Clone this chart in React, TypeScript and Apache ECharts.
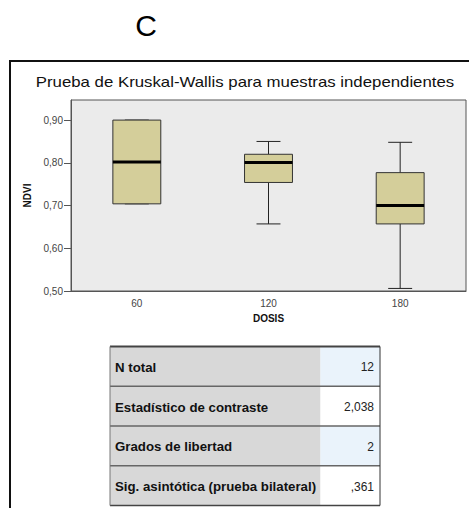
import React, { useEffect, useRef } from "react";
import * as echarts from "echarts";

const categories = ["60", "120", "180"];
const boxMin = [0.704, 0.657, 0.506];
const boxQ1 = [0.704, 0.754, 0.657];
const boxMedian = [0.802, 0.801, 0.7];
const boxQ3 = [0.9, 0.82, 0.777];
const boxMax = [0.9, 0.85, 0.848];

const tableLabels = [
  "N total",
  "Estadístico de contraste",
  "Grados de libertad",
  "Sig. asintótica (prueba bilateral)",
];
const tableValues = ["12", "2,038", "2", ",361"];

const FONT = "'Liberation Sans', Arial, sans-serif";

export default function App() {
  const ref = useRef<HTMLDivElement>(null);

  useEffect(() => {
    if (!ref.current) return;
    const chart = echarts.init(ref.current, null, { renderer: "svg" });

    const data = categories.map((_, i) => [
      i,
      boxMin[i],
      boxQ1[i],
      boxMedian[i],
      boxQ3[i],
      boxMax[i],
    ]);

    // table geometry
    const tX = 110, tW = 270, tSplit = 320.5, tTop = 346.5, rowH = 39.75;
    const tableGraphics: any[] = [];
    tableLabels.forEach((lab, i) => {
      const y = tTop + i * rowH;
      tableGraphics.push({
        type: "rect",
        shape: { x: tX, y, width: tSplit - tX, height: rowH },
        style: { fill: "#d8d8d8" },
        z: 10,
      });
      tableGraphics.push({
        type: "rect",
        shape: { x: tSplit, y, width: tX + tW - tSplit, height: rowH },
        style: { fill: i % 2 === 0 ? "#eaf3fb" : "#ffffff" },
        z: 10,
      });
      tableGraphics.push({
        type: "text",
        x: tX + 5,
        y: y + rowH / 2 + 1,
        scaleX: 1.02,
        style: {
          text: lab,
          font: `bold 13px ${FONT}`,
          fill: "#111",
          textAlign: "left",
          textVerticalAlign: "middle",
        },
        z: 12,
      });
      tableGraphics.push({
        type: "text",
        x: tX + tW - 6,
        y: y + rowH / 2 + 1,
        style: {
          text: tableValues[i],
          font: `12px ${FONT}`,
          fill: "#222",
          textAlign: "right",
          textVerticalAlign: "middle",
        },
        z: 12,
      });
      tableGraphics.push({
        type: "line",
        shape: { x1: tX, y1: y, x2: tX + tW, y2: y },
        style: { stroke: i === 0 ? "#444" : "#666", lineWidth: i === 0 ? 2 : 1.5 },
        z: 13,
      });
    });
    tableGraphics.push({
      type: "line",
      shape: { x1: tX, y1: tTop + 4 * rowH, x2: tX + tW, y2: tTop + 4 * rowH },
      style: { stroke: "#444", lineWidth: 1.5 },
      z: 13,
    });
    tableGraphics.push({
      type: "line",
      shape: { x1: tX, y1: tTop, x2: tX, y2: tTop + 4 * rowH },
      style: { stroke: "#777", lineWidth: 1 },
      z: 13,
    });
    tableGraphics.push({
      type: "line",
      shape: { x1: tX + tW, y1: tTop, x2: tX + tW, y2: tTop + 4 * rowH },
      style: { stroke: "#333", lineWidth: 1 },
      z: 13,
    });

    chart.setOption({
      animation: false,
      backgroundColor: "#ffffff",
      graphic: [
        {
          type: "text",
          x: 146,
          y: 25,
          style: {
            text: "C",
            font: `30px ${FONT}`,
            fill: "#000",
            textAlign: "center",
            textVerticalAlign: "middle",
          },
        },
        {
          type: "line",
          shape: { x1: 10, y1: 61, x2: 469, y2: 61 },
          style: { stroke: "#111", lineWidth: 2 },
        },
        {
          type: "line",
          shape: { x1: 10, y1: 60, x2: 10, y2: 508 },
          style: { stroke: "#111", lineWidth: 2 },
        },
        {
          type: "text",
          x: 245,
          y: 82,
          scaleX: 1.2,
          style: {
            text: "Prueba de Kruskal-Wallis para muestras independientes",
            font: `14px ${FONT}`,
            fill: "#111",
            textAlign: "center",
            textVerticalAlign: "middle",
          },
        },
        ...tableGraphics,
      ],
      grid: {
        left: 71,
        top: 100,
        width: 395,
        height: 191,
        show: true,
        backgroundColor: "#ebebeb",
        borderColor: "#555",
        borderWidth: 1,
      },
      xAxis: {
        type: "category",
        data: categories,
        name: "DOSIS",
        nameLocation: "middle",
        nameGap: 22,
        nameTextStyle: {
          fontFamily: FONT,
          fontSize: 10,
          fontWeight: "bold",
          color: "#111",
          verticalAlign: "top",
        },
        axisLine: { lineStyle: { color: "#555", width: 1 } },
        axisTick: {
          alignWithLabel: true,
          length: 5,
          lineStyle: { color: "#444" },
        },
        axisLabel: {
          fontFamily: FONT,
          fontSize: 10,
          color: "#444",
          margin: 7,
        },
        splitLine: { show: false },
      },
      yAxis: {
        type: "value",
        min: 0.5,
        max: 0.947,
        interval: 0.1,
        name: "NDVI",
        nameLocation: "middle",
        nameGap: 31,
        nameTextStyle: {
          fontFamily: FONT,
          fontSize: 10,
          fontWeight: "bold",
          color: "#111",
        },
        axisLine: { show: true, lineStyle: { color: "#555", width: 1 } },
        axisTick: { show: true, length: 7, lineStyle: { color: "#555" } },
        axisLabel: {
          fontFamily: FONT,
          fontSize: 10,
          color: "#444",
          margin: 8,
          showMaxLabel: false,
          formatter: (v: number) =>
            Math.abs(v * 10 - Math.round(v * 10)) < 1e-6
              ? v.toFixed(2).replace(".", ",")
              : "",
        },
        splitLine: { show: false },
      },
      series: [
        {
          type: "custom",
          data,
          encode: { x: 0, y: [1, 2, 3, 4, 5] },
          renderItem: (params: any, api: any) => {
            const idx = api.value(0);
            const x = api.coord([idx, api.value(1)])[0];
            const yMin = api.coord([idx, api.value(1)])[1];
            const yQ1 = api.coord([idx, api.value(2)])[1];
            const yMed = api.coord([idx, api.value(3)])[1];
            const yQ3 = api.coord([idx, api.value(4)])[1];
            const yMax = api.coord([idx, api.value(5)])[1];
            const band = api.size([1, 0])[0];
            const bw = band * 0.364;
            const cw = bw / 2;
            const lineStyle = { stroke: "#222", lineWidth: 1 };
            return {
              type: "group",
              children: [
                {
                  type: "line",
                  shape: { x1: x, y1: yMax, x2: x, y2: yQ3 },
                  style: lineStyle,
                },
                {
                  type: "line",
                  shape: { x1: x, y1: yQ1, x2: x, y2: yMin },
                  style: lineStyle,
                },
                {
                  type: "line",
                  shape: { x1: x - cw / 2, y1: yMax, x2: x + cw / 2, y2: yMax },
                  style: lineStyle,
                },
                {
                  type: "line",
                  shape: { x1: x - cw / 2, y1: yMin, x2: x + cw / 2, y2: yMin },
                  style: lineStyle,
                },
                {
                  type: "rect",
                  shape: { x: x - bw / 2, y: yQ3, width: bw, height: yQ1 - yQ3 },
                  style: { fill: "#d4ce9a", stroke: "#333", lineWidth: 1 },
                },
                {
                  type: "line",
                  shape: { x1: x - bw / 2, y1: yMed, x2: x + bw / 2, y2: yMed },
                  style: { stroke: "#000", lineWidth: 3 },
                },
              ],
            };
          },
        },
      ],
    });

    return () => chart.dispose();
  }, []);

  return (
    <div
      ref={ref}
      style={{ position: "absolute", left: 0, top: 0, width: 469, height: 508 }}
    />
  );
}
